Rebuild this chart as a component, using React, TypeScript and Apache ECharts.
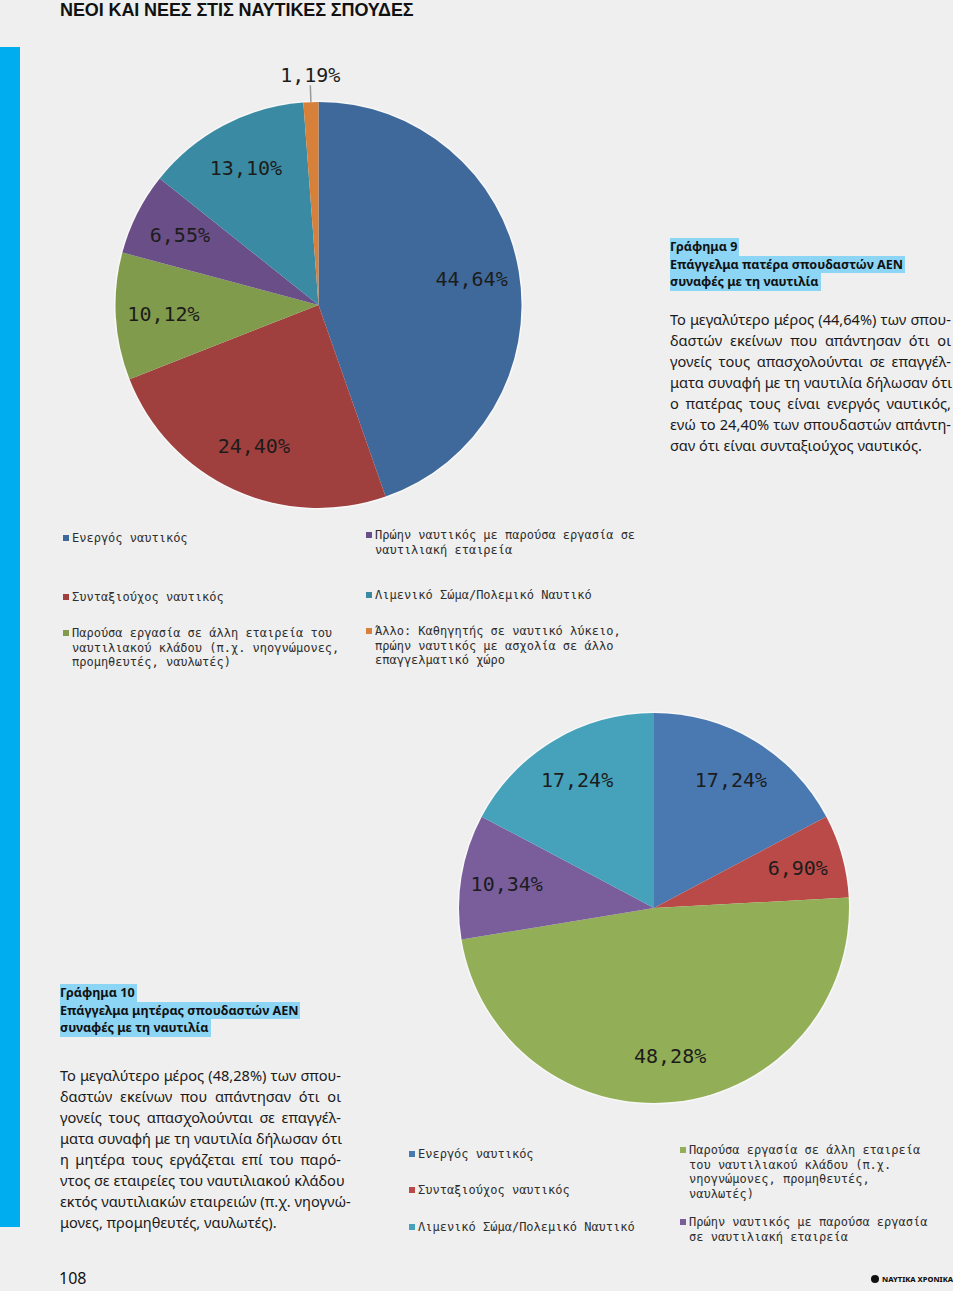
import React, { useEffect, useRef } from "react";
import * as echarts from "echarts";

// ---------- DATA ----------
const fatherLegendLines: string[][] = [
  ["Ενεργός ναυτικός"],
  ["Συνταξιούχος ναυτικός"],
  ["Παρούσα εργασία σε άλλη εταιρεία του", "ναυτιλιακού κλάδου (π.χ. νηογνώμονες,", "προμηθευτές, ναυλωτές)"],
  ["Πρώην ναυτικός με παρούσα εργασία σε", "ναυτιλιακή εταιρεία"],
  ["Λιμενικό Σώμα/Πολεμικό Ναυτικό"],
  ["Άλλο: Καθηγητής σε ναυτικό λύκειο,", "πρώην ναυτικός με ασχολία σε άλλο", "επαγγελματικό χώρο"],
];
const fatherValues: number[] = [44.64, 24.4, 10.12, 6.55, 13.1, 1.19];
const fatherColors: string[] = ["#40699B", "#A0403E", "#819B4C", "#6A4E88", "#3B8AA3", "#D6803A"];

const motherLegendLines: string[][] = [
  ["Ενεργός ναυτικός"],
  ["Συνταξιούχος ναυτικός"],
  ["Παρούσα εργασία σε άλλη εταιρεία", "του ναυτιλιακού κλάδου (π.χ.", "νηογνώμονες, προμηθευτές,", "ναυλωτές)"],
  ["Πρώην ναυτικός με παρούσα εργασία", "σε ναυτιλιακή εταιρεία"],
  ["Λιμενικό Σώμα/Πολεμικό Ναυτικό"],
];
const motherValues: number[] = [17.24, 6.9, 48.28, 10.34, 17.24];
const motherColors: string[] = ["#4A79B1", "#B94A48", "#92AF57", "#7A5E9C", "#46A2BB"];

const pageTitle = "ΝΕΟΙ ΚΑΙ ΝΕΕΣ ΣΤΙΣ ΝΑΥΤΙΚΕΣ ΣΠΟΥΔΕΣ";
const heading9: string[] = ["Γράφημα 9", "Επάγγελμα πατέρα σπουδαστών ΑΕΝ", "συναφές με τη ναυτιλία"];
const body9: string[] = [
  "Το μεγαλύτερο μέρος (44,64%) των σπου-",
  "δαστών εκείνων που απάντησαν ότι οι",
  "γονείς τους απασχολούνται σε επαγγέλ-",
  "ματα συναφή με τη ναυτιλία δήλωσαν ότι",
  "ο πατέρας τους είναι ενεργός ναυτικός,",
  "ενώ το 24,40% των σπουδαστών απάντη-",
  "σαν ότι είναι συνταξιούχος ναυτικός.",
];
const heading10: string[] = ["Γράφημα 10", "Επάγγελμα μητέρας σπουδαστών ΑΕΝ", "συναφές με τη ναυτιλία"];
const body10: string[] = [
  "Το μεγαλύτερο μέρος (48,28%) των σπου-",
  "δαστών εκείνων που απάντησαν ότι οι",
  "γονείς τους απασχολούνται σε επαγγέλ-",
  "ματα συναφή με τη ναυτιλία δήλωσαν ότι",
  "η μητέρα τους εργάζεται επί του παρό-",
  "ντος σε εταιρείες του ναυτιλιακού κλάδου",
  "εκτός ναυτιλιακών εταιρειών (π.χ. νηογνώ-",
  "μονες, προμηθευτές, ναυλωτές).",
];

// ---------- LAYOUT ----------
const W = 953;
const H = 1291;
const BG = "#efefef";
const MONO = "'DejaVu Sans Mono', monospace";
const SANS = "'Noto Sans', sans-serif";
const HILITE = "#8dd5f5";

const pie1 = { cx: 318.5, cy: 305, r: 203 };
const pie2 = { cx: 654, cy: 908, r: 195 };
const legend1Slots = [
  [63, 538], [63, 597], [63, 633], [366, 535], [366, 595], [366, 631],
];
const legend2Slots = [
  [409, 1154], [409, 1190], [680, 1150], [680, 1222], [409, 1227],
];
const LEG_LH = 14.5;

const fmt = (v: number) => v.toFixed(2).replace(".", ",") + "%";

function pieSeries(values: number[], names: string[], colors: string[], p: { cx: number; cy: number; r: number }, withOutside: boolean) {
  const fill = {
    type: "pie",
    center: [p.cx, p.cy],
    radius: [0, p.r],
    startAngle: 90,
    clockwise: true,
    silent: true,
    avoidLabelOverlap: false,
    label: { show: false },
    labelLine: { show: false },
    itemStyle: { borderWidth: 0 },
    emphasis: { disabled: true },
    data: values.map((v, i) => ({ name: names[i], value: v, itemStyle: { color: colors[i] } })),
    z: 3,
  };
  const last = values.length - 1;
  const labels = {
    type: "pie",
    center: [p.cx, p.cy],
    radius: [p.r * 0.5, p.r],
    startAngle: 90,
    clockwise: true,
    silent: true,
    avoidLabelOverlap: false,
    itemStyle: { color: "rgba(0,0,0,0)", borderWidth: 0 },
    emphasis: { disabled: true },
    label: {
      show: true,
      position: "inside",
      formatter: (pp: any) => fmt(pp.value),
      fontFamily: MONO,
      fontSize: 20,
      color: "#1c1c1c",
    },
    labelLine: { show: false },
    labelLayout: (params: any) => {
      const pts = params.labelLinePoints;
      if (!withOutside || params.dataIndex !== last || !pts) return {};
      const top = pts[1];
      return {
        x: top[0],
        y: top[1] - 11,
        align: "center",
        verticalAlign: "middle",
      };
    },
    data: values.map((v, i) => {
      const item: any = { name: names[i], value: v };
      if (withOutside && i === last) {
        item.label = { position: "outside", distanceToLabelLine: 0 };
        item.labelLine = { show: true, length: 16, length2: 0, lineStyle: { color: "#9a9a9a", width: 1.5 } };
      }
      return item;
    }),
    z: 4,
  };
  return [fill, labels];
}

function legendGraphics(lines: string[][], colors: string[], slots: number[][]) {
  const out: any[] = [];
  lines.forEach((ls, i) => {
    const [x, yc] = slots[i];
    out.push({
      type: "rect",
      shape: { x: x, y: yc - 3, width: 6, height: 6 },
      style: { fill: colors[i] },
      silent: true,
    });
    out.push({
      type: "text",
      x: x + 9,
      y: yc - LEG_LH / 2,
      style: {
        text: ls.join("\n"),
        font: `12px ${MONO}`,
        fill: "#2e2e2e",
        lineHeight: LEG_LH,
        verticalAlign: "top",
        align: "left",
      },
      silent: true,
    });
  });
  return out;
}

function buildOption() {
  const names1 = fatherLegendLines.map((l) => l.join(" "));
  const names2 = motherLegendLines.map((l) => l.join(" "));
  return {
    animation: false,
    backgroundColor: "transparent",
    graphic: [
      { type: "rect", shape: { x: 0, y: 47, width: 20, height: 1180 }, style: { fill: "#00AEEF" }, silent: true },
      { type: "circle", shape: { cx: pie1.cx, cy: pie1.cy, r: pie1.r + 1.5 }, style: { fill: "#f8f8f8" }, silent: true, z: 0 },
      { type: "circle", shape: { cx: pie2.cx, cy: pie2.cy, r: pie2.r + 1.5 }, style: { fill: "#f8f8f8" }, silent: true, z: 0 },
      ...legendGraphics(fatherLegendLines, fatherColors, legend1Slots),
      ...legendGraphics(motherLegendLines, motherColors, legend2Slots),
    ],
    series: [
      ...pieSeries(fatherValues, names1, fatherColors, pie1, true),
      ...pieSeries(motherValues, names2, motherColors, pie2, false),
    ],
  };
}

function Heading({ lines, left, top }: { lines: string[]; left: number; top: number }) {
  return (
    <div style={{ position: "absolute", left, top, fontFamily: SANS, fontWeight: 700, fontSize: 12.6, color: "#111" }}>
      {lines.map((t, i) => (
        <div key={i} style={{ height: 17.5, lineHeight: "17.5px" }}>
          <span style={{ display: "inline-block", background: HILITE, paddingRight: 2, height: 17.5 }}>{t}</span>
        </div>
      ))}
    </div>
  );
}

function Body({ lines, left, top, width }: { lines: string[]; left: number; top: number; width: number }) {
  return (
    <div style={{ position: "absolute", left, top, width, fontFamily: SANS, fontSize: 14.6, color: "#1a1a1a" }}>
      {lines.map((t, i) => (
        <div
          key={i}
          style={{
            height: 21,
            lineHeight: "21px",
            whiteSpace: "nowrap",
            textAlign: i === lines.length - 1 ? "left" : "justify",
            textAlignLast: i === lines.length - 1 ? "left" : "justify",
          }}
        >
          {t}
        </div>
      ))}
    </div>
  );
}

export default function App() {
  const ref = useRef<HTMLDivElement>(null);
  useEffect(() => {
    if (!ref.current) return;
    const chart = echarts.init(ref.current, null, { renderer: "svg" });
    chart.setOption(buildOption() as any);
    return () => chart.dispose();
  }, []);
  return (
    <div style={{ position: "absolute", left: 0, top: 0, width: W, height: H, background: BG, overflow: "hidden" }}>
      <div ref={ref} style={{ position: "absolute", left: 0, top: 0, width: W, height: H }} />
      <div
        style={{
          position: "absolute",
          left: 60,
          top: 0,
          fontFamily: "'Liberation Sans', sans-serif",
          fontWeight: 700,
          fontSize: 18,
          letterSpacing: -0.1,
          color: "#111",
          whiteSpace: "nowrap",
        }}
      >
        {pageTitle}
      </div>
      <Heading lines={heading9} left={670} top={238} />
      <Body lines={body9} left={670} top={308.5} width={281} />
      <Heading lines={heading10} left={60} top={984} />
      <Body lines={body10} left={60} top={1064.5} width={281} />
      <div style={{ position: "absolute", left: 59, top: 1267, fontFamily: SANS, fontSize: 16, color: "#111" }}>108</div>
      <div
        style={{
          position: "absolute",
          left: 871,
          top: 1274,
          display: "flex",
          alignItems: "center",
          fontFamily: SANS,
          fontWeight: 800,
          fontSize: 7.5,
          lineHeight: "10px",
          color: "#111",
          whiteSpace: "nowrap",
        }}
      >
        <span style={{ display: "inline-block", width: 8, height: 8, borderRadius: 4, background: "#111", marginRight: 3 }} />
        ΝΑΥΤΙΚΑ ΧΡΟΝΙΚΑ
      </div>
    </div>
  );
}
